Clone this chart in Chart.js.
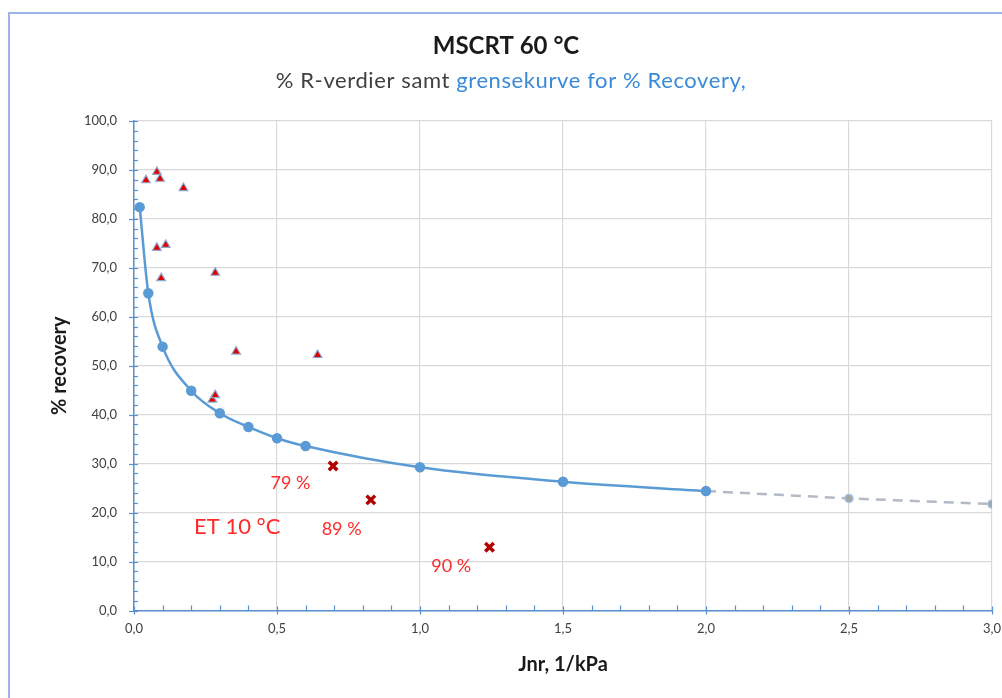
<!DOCTYPE html>
<html>
<head>
<meta charset="utf-8">
<script src="https://cdn.jsdelivr.net/npm/chart.js@4.4.0/dist/chart.umd.min.js"></script>
<style>
  html, body { margin: 0; padding: 0; background: #fff; overflow: hidden; }
  #wrap { width: 1012px; height: 698px; }
</style>
</head>
<body>
<div id="wrap"><canvas id="chart" width="1012" height="698"></canvas></div>
<script>
// grensekurve (smoothed limit curve)
const curveJnr = [0.02, 0.05, 0.1, 0.2, 0.3, 0.4, 0.5, 0.6, 1.0, 1.5, 2.0];
const curveRec = [82.4, 64.8, 53.9, 44.9, 40.3, 37.5, 35.2, 33.6, 29.25, 26.3, 24.4];

// extrapolated part (dashed)
const extJnr = [2.0, 2.5, 3.0];
const extRec = [24.4, 22.9, 21.75];

// % R-verdier (triangles)
const triJnr = [0.042, 0.080, 0.091, 0.173, 0.080, 0.111, 0.095, 0.284, 0.357, 0.642, 0.274, 0.284];
const triRec = [87.9, 89.6, 88.2, 86.3, 74.1, 74.7, 67.9, 69.0, 52.9, 52.2, 43.1, 44.0];

// ET 10 °C points (crosses)
const etJnr = [0.696, 0.828, 1.243];
const etRec = [29.5, 22.6, 12.9];

// annotation texts
const noteTexts = ['79 %', '89 %', '90 %', 'ET 10 °C'];
const noteJnr = [0.547, 0.726, 1.109, 0.361];
const noteRec = [26.1, 16.6, 9.1, 17.1];

const toPts = (xs, ys) => xs.map((x, i) => ({ x: x, y: ys[i] }));
const fmt = v => v.toFixed(1).replace('.', ',');

const AXIS_BLUE = '#5b8fcf';
const FONT = 'Lato, "Open Sans", sans-serif';

const decorPlugin = {
  id: 'decor',
  beforeDraw(chart) {
    const ctx = chart.ctx;
    ctx.save();
    ctx.strokeStyle = '#9db4ea';
    ctx.lineWidth = 2;
    ctx.beginPath();
    ctx.moveTo(9, 698);
    ctx.lineTo(9, 13);
    ctx.lineTo(1012, 13);
    ctx.stroke();
    ctx.restore();
  },
  afterDraw(chart) {
    const ctx = chart.ctx;
    const xs = chart.scales.x, ys = chart.scales.y;
    ctx.save();

    // minor / major tick marks
    ctx.strokeStyle = AXIS_BLUE;
    ctx.lineWidth = 1.2;
    const y0 = ys.getPixelForValue(0);
    for (let i = 0; i <= 30; i++) {
      const px = Math.round(xs.getPixelForValue(i / 10)) + 0.5;
      ctx.beginPath();
      if (i % 5 === 0) { ctx.moveTo(px, y0 - 4); ctx.lineTo(px, y0 + 4); }
      else { ctx.moveTo(px, y0 - 5); ctx.lineTo(px, y0); }
      ctx.stroke();
    }
    const x0 = xs.getPixelForValue(0);
    for (let i = 0; i <= 50; i++) {
      const py = Math.round(ys.getPixelForValue(i * 2)) + 0.5;
      ctx.beginPath();
      if (i % 5 === 0) { ctx.moveTo(x0 - 5, py); ctx.lineTo(x0 + 4, py); }
      else { ctx.moveTo(x0, py); ctx.lineTo(x0 + 4, py); }
      ctx.stroke();
    }

    // title
    ctx.textAlign = 'center';
    ctx.textBaseline = 'middle';
    ctx.fillStyle = '#1a1a1a';
    ctx.font = 'bold 24px ' + FONT;
    ctx.fillText('MSCRT 60 °C', 506, 46);

    // subtitle in two colours
    ctx.font = '22px ' + FONT;
    ctx.letterSpacing = '0.6px';
    const partA = '% R-verdier samt ';
    const partB = 'grensekurve for % Recovery,';
    const wA = ctx.measureText(partA).width;
    const wB = ctx.measureText(partB).width;
    let sx = 511 - (wA + wB) / 2;
    ctx.textAlign = 'left';
    ctx.fillStyle = '#404040';
    ctx.fillText(partA, sx, 81);
    ctx.fillStyle = '#3a8ad8';
    ctx.fillText(partB, sx + wA, 81);
    ctx.letterSpacing = '0px';

    // annotations
    ctx.textAlign = 'center';
    ctx.fillStyle = '#ff2a2a';
    noteTexts.forEach((t, i) => {
      ctx.font = (i === 3 ? '22px ' : '18px ') + FONT;
      ctx.fillText(t, xs.getPixelForValue(noteJnr[i]), ys.getPixelForValue(noteRec[i]));
    });
    ctx.restore();
  }
};

new Chart(document.getElementById('chart'), {
  type: 'scatter',
  data: {
    datasets: [
      {
        label: 'ekstrapolert',
        data: toPts(extJnr, extRec),
        showLine: true,
        borderColor: '#b3bac6',
        borderWidth: 2.5,
        borderDash: [10, 7],
        pointRadius: [0, 4, 4],
        pointBackgroundColor: '#a6a6a6',
        pointBorderColor: '#9dc3e6',
        pointBorderWidth: 1.5,
        order: 3
      },
      {
        label: 'grensekurve',
        data: toPts(curveJnr, curveRec),
        showLine: true,
        cubicInterpolationMode: 'monotone',
        borderColor: '#5b9bd5',
        borderWidth: 2.5,
        pointRadius: 4,
        pointBackgroundColor: '#5b9bd5',
        pointBorderColor: '#5b9bd5',
        order: 2
      },
      {
        label: '% R',
        data: toPts(triJnr, triRec),
        pointStyle: 'triangle',
        pointRadius: 5,
        pointBackgroundColor: '#e00000',
        pointBorderColor: '#8fa9cc',
        pointBorderWidth: 1.2,
        order: 1
      },
      {
        label: 'ET 10 °C',
        data: toPts(etJnr, etRec),
        pointStyle: 'crossRot',
        pointRadius: 6,
        pointBorderColor: '#b00000',
        pointBorderWidth: 3.5,
        order: 0
      }
    ]
  },
  options: {
    responsive: false,
    animation: false,
    layout: { padding: { top: 121, right: 16, bottom: 0, left: 0 } },
    plugins: { legend: { display: false }, tooltip: { enabled: false } },
    scales: {
      x: {
        type: 'linear',
        min: 0, max: 3,
        afterFit: s => { s.height = 87.5; },
        ticks: {
          stepSize: 0.5,
          padding: 11,
          color: '#404040',
          font: { family: FONT, size: 13 },
          callback: v => fmt(v)
        },
        grid: { color: '#d9d9d9', lineWidth: 1.2, drawTicks: false },
        border: { color: AXIS_BLUE, width: 1.5 },
        title: {
          display: true,
          text: 'Jnr, 1/kPa',
          color: '#1a1a1a',
          font: { family: FONT, size: 20, weight: 'bold', lineHeight: 1.2 },
          padding: { top: 0, bottom: 21 }
        }
      },
      y: {
        type: 'linear',
        min: 0, max: 100,
        afterFit: s => { s.width = 134; },
        ticks: {
          stepSize: 10,
          padding: 17,
          color: '#404040',
          font: { family: FONT, size: 13 },
          callback: v => fmt(v)
        },
        grid: { color: '#d9d9d9', lineWidth: 1.2, drawTicks: false },
        border: { color: AXIS_BLUE, width: 1.5 },
        title: {
          display: true,
          text: '% recovery',
          color: '#1a1a1a',
          font: { family: FONT, size: 20, weight: 'bold', lineHeight: 1.2 },
          padding: { top: 48, bottom: 0 }
        }
      }
    }
  },
  plugins: [decorPlugin]
});
</script>
</body>
</html>
